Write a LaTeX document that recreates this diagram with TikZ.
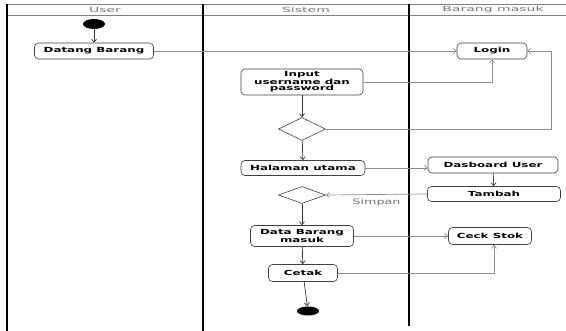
\documentclass[tikz,border=0pt]{standalone}
\usepackage{fontspec}
\newfontfamily\boxfont[FakeStretch=1.7]{DejaVu Sans}
\newfontfamily\judulfont[FakeStretch=2]{DejaVu Sans}
\usetikzlibrary{arrows.meta,shapes.geometric}

\begin{document}
\begin{tikzpicture}[x=1pt,y=-1pt,
        aksi/.style={draw=black!75,line width=.6pt,fill=white,rounded corners=4pt,
            font=\boxfont\bfseries\fontsize{7}{6.2}\selectfont,align=center,inner sep=0pt},
        cabang/.style={diamond,draw=black!75,line width=.6pt,fill=white,inner sep=0pt,aspect=2},
        titik/.style={ellipse,fill=black,inner sep=0pt},
        judul/.style={font=\judulfont\fontsize{7}{7}\selectfont,text=black!55},
        alir/.style={draw=black!80,line width=.7pt,-{Straight Barb[length=3pt,width=5pt]}},
        garis/.style={draw=black!45,line width=.7pt,-{Straight Barb[length=3pt,width=5pt]}}]
        \useasboundingbox (0,0) rectangle (566,331);

        % jalur
        \draw[black!50] (7,4) -- (566,4);
        \draw[black!50] (7,15) -- (566,15);
        \draw[line width=1.2pt] (7,4) -- (7,331);
        \draw[line width=1.2pt] (203,4) -- (203,331);
        \draw[line width=1.2pt] (409,4) -- (409,326);
        \foreach \x/\t in {105/User,306/Sistem,493/Barang masuk}
            {\node[judul] (lane\x) at (\x,10) {\t};}

        % aktivitas
        \node[titik,minimum width=22pt,minimum height=10pt] (awal) at (94,24) {};
        \node[aksi,minimum width=119pt,minimum height=16pt] (datang) at (94,51) {Datang Barang};
        \node[aksi,minimum width=70pt,minimum height=16pt] (login) at (492,51) {Login};
        \node[aksi,minimum width=122pt,minimum height=26pt] (input) at (302,82) {Input\\username dan\\password};
        \node[cabang,minimum width=47pt,minimum height=23pt] (cek1) at (302,129) {};
        \node[aksi,minimum width=124pt,minimum height=15pt] (halaman) at (303,168) {Halaman utama};
        \node[aksi,minimum width=130pt,minimum height=16pt] (dasboard) at (493,165) {Dasboard User};
        \node[aksi,minimum width=133pt,minimum height=15pt] (tambah) at (494,194) {Tambah};
        \node[cabang,minimum width=47pt,minimum height=17pt] (cek2) at (302,195) {};
        \node[aksi,minimum width=103pt,minimum height=21pt] (data) at (302,236) {Data Barang\\masuk};
        \node[aksi,minimum width=83pt,minimum height=17pt] (stok) at (490,236) {Ceck Stok};
        \node[aksi,minimum width=69pt,minimum height=17pt] (cetak) at (303,273) {Cetak};
        \node[titik,minimum width=22pt,minimum height=9pt] (akhir) at (308,311) {};

        % alur
        \draw[alir] (awal) -- (datang);
        \draw[garis] (datang) -- (login);
        \draw[garis] (input.east) -| (login.south);
        \draw[alir] (input) -- (cek1);
        \draw[garis] (cek1.east) -| ([xshift=24pt]login.east) -- (login.east);
        \draw[alir] (cek1) -- (halaman);
        \draw[garis] (halaman.east) -- (halaman.east -| dasboard.west);
        \draw[alir] (dasboard) -- (tambah);
        \draw[garis] (tambah.west) -- (cek2.east)
            node[midway,below=1pt,judul,font=\boxfont\fontsize{7.5}{7.5}\selectfont] (simpan) {Simpan};
        \draw[alir] (cek2) -- (data);
        \draw[garis] (data) -- (stok);
        \draw[alir] (data) -- (cetak);
        \draw[garis] (cetak.east) -| ([xshift=4pt]stok.south);
        \draw[alir] (cetak) -- (akhir);
    \end{tikzpicture}
\end{document}
